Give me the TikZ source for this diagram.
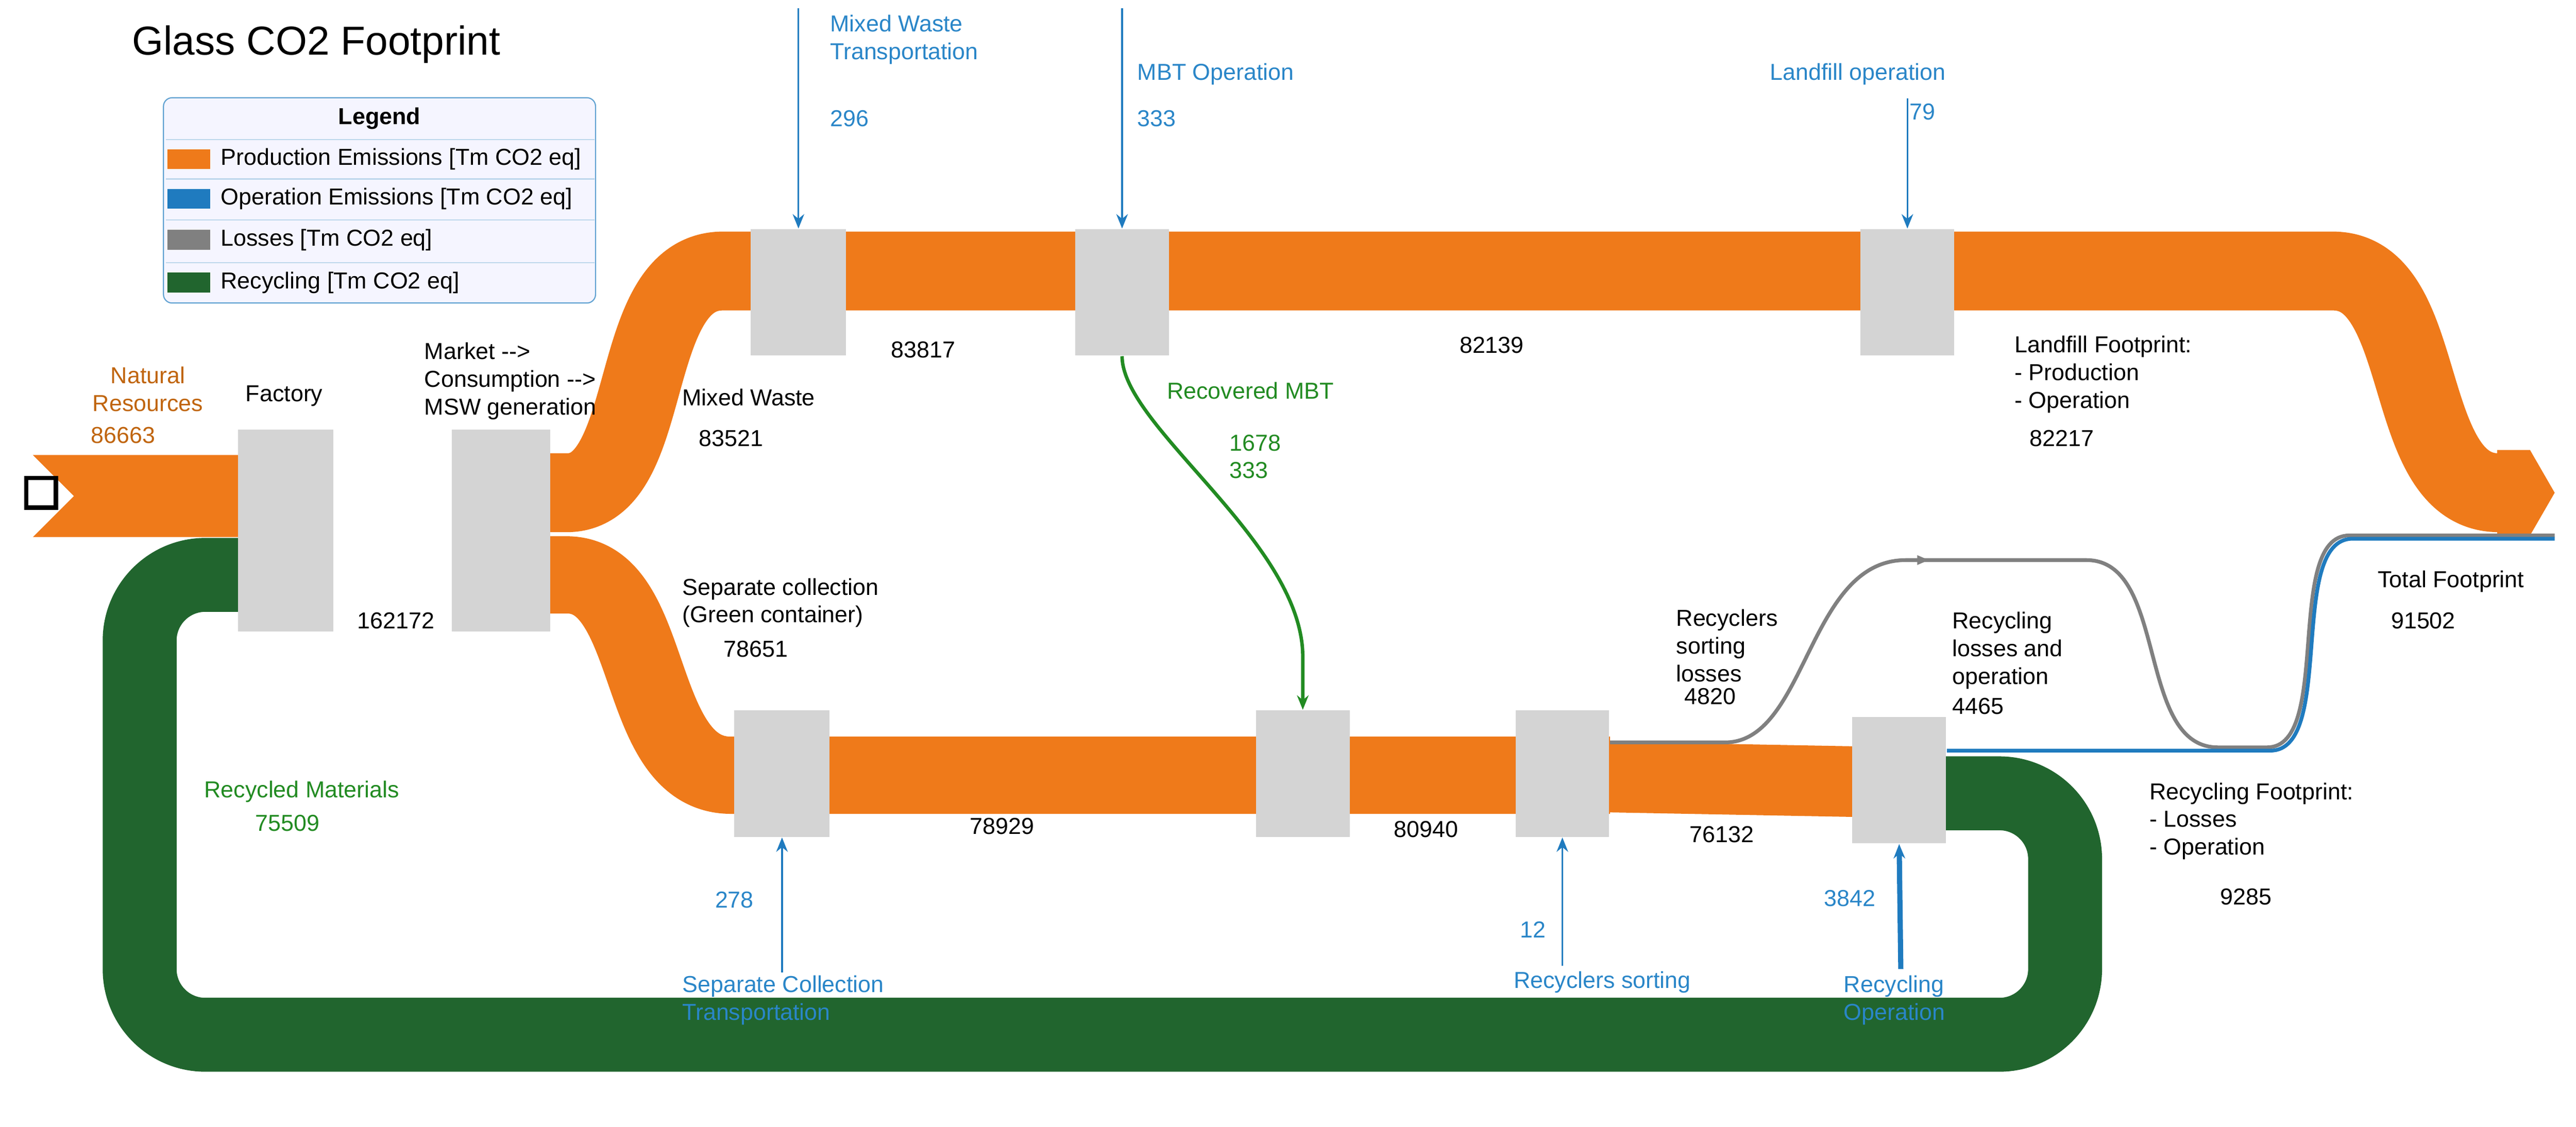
\documentclass[tikz,border=0pt]{standalone}
\usepackage{fontspec}
\setmainfont{Liberation Sans}
\usetikzlibrary{arrows.meta}
\definecolor{org}{RGB}{239,122,26}
\definecolor{grn}{RGB}{33,101,46}
\definecolor{bx}{RGB}{212,212,212}
\definecolor{blu}{RGB}{31,123,191}
\definecolor{lblu}{RGB}{42,134,200}
\definecolor{brn}{RGB}{192,101,15}
\definecolor{lgr}{RGB}{34,139,34}
\begin{document}
\begin{tikzpicture}[x=0.02cm,y=-0.02cm,
  box/.style={fill=bx,draw=none},
  lab/.style={font=\fontsize{8}{9.6}\selectfont,inner sep=0pt,align=left,anchor=west},
  num/.style={font=\fontsize{8}{9.6}\selectfont,inner sep=0pt},
  band/.style={line cap=butt},
  bar/.style={draw=blu,line width=0.6pt,-{Stealth[length=5pt,width=4pt]}}]
\useasboundingbox (0,0) rectangle (1568,686);
% bands
\draw[grn,band,line width=0.9cm,rounded corners=0.8cm] (160,350) -- (85,350) -- (85,630) -- (1257,630) -- (1257,483) -- (1180,483);
\fill[org] (20,277) -- (150,277) -- (150,327) -- (20,327) -- (45,302) -- cycle;
\draw[org,band,line width=0.96cm] (300,300) -- (345,300) .. controls (400,300) and (380,165) .. (440,165) -- (1420,165) .. controls (1480,165) and (1460,300) .. (1521,300);
\fill[org] (1520,274) -- (1540,274) -- (1555,300) -- (1540,326) -- (1520,326) -- cycle;
\draw[org,band,line width=0.94cm] (300,350) -- (345,350) .. controls (400,350) and (385,472) .. (445,472) -- (980,472);
\draw[org,band,line width=0.86cm] (975,473) -- (1135,476);
% loss / operation lines
\draw[gray,line width=1.3pt] (980,452) -- (1050,452) .. controls (1100,452) and (1100,341) .. (1160,341) -- (1270,341) .. controls (1320,341) and (1300,455) .. (1350,455) -- (1380,455) .. controls (1420,455) and (1390,326) .. (1430,326) -- (1555,326);
\fill[gray] (1174,341) -- (1167,338) -- (1167,344) -- cycle;
\draw[blu,line width=1.3pt] (1185,457) -- (1350,457) -- (1382,457) .. controls (1422,457) and (1392,328) .. (1432,328) -- (1555,328);
% boxes
\node[box,minimum width=58*0.02cm,minimum height=123*0.02cm] (fac) at (174,323) {};
\node[box,minimum width=60*0.02cm,minimum height=123*0.02cm] (mkt) at (305,323) {};
\node[box,minimum width=58*0.02cm,minimum height=77*0.02cm] (mwt) at (486,178) {};
\node[box,minimum width=57*0.02cm,minimum height=77*0.02cm] (mbt) at (683,178) {};
\node[box,minimum width=57*0.02cm,minimum height=77*0.02cm] (lf) at (1161,178) {};
\node[box,minimum width=58*0.02cm,minimum height=77*0.02cm] (sc) at (476,471) {};
\node[box,minimum width=57*0.02cm,minimum height=77*0.02cm] (mbt2) at (793,471) {};
\node[box,minimum width=57*0.02cm,minimum height=77*0.02cm] (rs) at (951,471) {};
\node[box,minimum width=57*0.02cm,minimum height=77*0.02cm] (ro) at (1156,475) {};
\node[draw=black,line width=1.5pt,minimum width=18*0.02cm,minimum height=18*0.02cm,inner sep=0pt] (sq) at (25,300) {};
% operation arrows
\coordinate (a1) at (486,5); \coordinate (a2) at (683,5); \coordinate (a3) at (1161,60);
\coordinate (b1) at (476,592); \coordinate (b2) at (951,588); \coordinate (b3) at (1157,590);
\draw[bar] (a1) -- (mwt.north);
\draw[bar] (a2) -- (mbt.north);
\draw[bar] (a3) -- (lf.north);
\draw[bar] (b1) -- (sc.south);
\draw[bar] (b2) -- (rs.south);
\draw[bar,line width=1.8pt] (b3) -- (ro.south);
\draw[lgr,line width=1.2pt,-{Stealth[length=5pt,width=4pt]}] (mbt.south) .. controls (683,260) and (793,330) .. (793,400) -- (mbt2.north);
% title & legend
\node[anchor=west,inner sep=0pt,font=\fontsize{14}{16}\selectfont] (title) at (80,27) {Glass CO2 Footprint};
\node[draw=blu!70,fill=blue!4,rounded corners=3pt,minimum width=263*0.02cm,minimum height=125*0.02cm] (leg) at (231,122) {};
\node[num,font=\fontsize{8}{9.6}\selectfont\bfseries] (legt) at (231,72) {Legend};
\foreach \y/\c/\t [count=\i] in {97/org/Production Emissions [Tm CO2 eq],121/blu/Operation Emissions [Tm CO2 eq],146/gray/Losses [Tm CO2 eq],172/grn/Recycling [Tm CO2 eq]}{
  \draw[blu!30] (101,\y-12) -- (362,\y-12);
  \fill[\c] (102,\y-6) rectangle (128,\y+6);
  \node[lab] (l\i) at (134,\y) {\t};
}
% labels
\node[num,text=brn,align=center] (nr) at (90,237) {Natural\\Resources};
\node[num,text=brn] (nrv) at (75,265) {86663};
\node[num] (ft) at (173,241) {Factory};
\node[lab] (mk) at (258,232) {Market {-}{-}>\\Consumption {-}{-}>\\MSW generation};
\node[num] (v1) at (241,378) {162172};
\node[lab] (mw) at (415,242) {Mixed Waste};
\node[num] (v2) at (445,267) {83521};
\node[num] (v3) at (562,213) {83817};
\node[num] (v4) at (908,210) {82139};
\node[lab,text=lgr] (rm) at (710,238) {Recovered MBT};
\node[lab,text=lgr] (rmv) at (748,278) {1678\\333};
\node[lab] (lff) at (1226,228) {Landfill Footprint:\\- Production\\- Operation};
\node[num] (v5) at (1255,267) {82217};
\node[lab] (scl) at (415,367) {Separate collection\\(Green container)};
\node[num] (v6) at (460,395) {78651};
\node[lab] (rsl) at (1020,393) {Recyclers\\sorting\\losses};
\node[lab] (v7) at (1025,424) {4820};
\node[lab] (rlo) at (1188,396) {Recycling\\losses and\\operation};
\node[lab] (v8) at (1188,430) {4465};
\node[lab] (tf) at (1447,354) {Total Footprint};
\node[num] (v9) at (1475,378) {91502};
\node[lab,text=lgr] (rcm) at (124,482) {Recycled Materials};
\node[num,text=lgr] (v10) at (175,501) {75509};
\node[num] (v11) at (610,503) {78929};
\node[num] (v12) at (868,505) {80940};
\node[num] (v13) at (1048,508) {76132};
\node[lab] (rf) at (1308,500) {Recycling Footprint:\\- Losses\\- Operation};
\node[num] (v14) at (1367,546) {9285};
\node[lab,text=lblu] (t1) at (505,24) {Mixed Waste\\Transportation};
\node[lab,text=lblu] (t1v) at (505,72) {296};
\node[lab,text=lblu] (t2) at (692,45) {MBT Operation};
\node[lab,text=lblu] (t2v) at (692,72) {333};
\node[lab,text=lblu] (t3) at (1077,45) {Landfill operation};
\node[lab,text=lblu] (t3v) at (1162,68) {79};
\node[num,text=lblu] (t4v) at (447,548) {278};
\node[lab,text=lblu] (t4) at (415,609) {Separate Collection\\Transportation};
\node[num,text=lblu] (t5v) at (933,566) {12};
\node[lab,text=lblu] (t5) at (921,598) {Recyclers sorting};
\node[num,text=lblu] (t6v) at (1126,547) {3842};
\node[lab,text=lblu] (t6) at (1122,609) {Recycling\\Operation};
\end{tikzpicture}
\end{document}
